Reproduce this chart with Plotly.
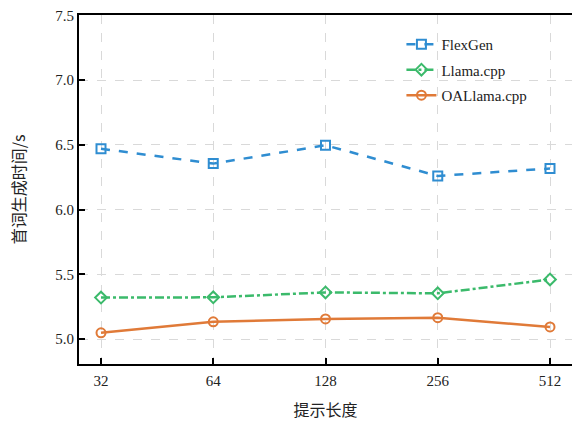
import plotly.graph_objects as go

categories = ["32", "64", "128", "256", "512"]
flexgen = [6.47, 6.355, 6.497, 6.26, 6.317]
llama_cpp = [5.32, 5.322, 5.36, 5.353, 5.46]
oallama_cpp = [5.048, 5.133, 5.155, 5.165, 5.093]
y_ticks = [5.0, 5.5, 6.0, 6.5, 7.0, 7.5]

series = [
    ("FlexGen", flexgen, "#2f8dd1", "dash", "square-open"),
    ("Llama.cpp", llama_cpp, "#3bba6b", "dashdot", "diamond-open"),
    ("OALlama.cpp", oallama_cpp, "#e07a38", "solid", "circle-open"),
]

serif = "Liberation Serif"
cjk = "Noto Sans CJK SC"
x_idx = list(range(len(categories)))

fig = go.Figure()
for i, (name, vals, color, dash, sym) in enumerate(series):
    fig.add_trace(go.Scatter(
        x=x_idx, y=vals, name=name, mode="lines+markers",
        line=dict(color=color, width=2.5, dash=dash),
        marker=dict(symbol=sym, size=9, color=color, line=dict(color=color, width=2)),
        legendgroup=f"g{i}",
    ))

fig.update_layout(
    template="none",
    width=572, height=421,
    margin=dict(l=79, r=0, t=15, b=57, autoexpand=False),
    paper_bgcolor="white", plot_bgcolor="white",
    font=dict(family=serif, size=14, color="#222"),
    showlegend=True,
    legend=dict(x=0.654, y=0.963, xanchor="left", yanchor="top",
                bgcolor="rgba(255,255,255,0)", font=dict(size=15, family=serif),
                tracegroupgap=3),
    xaxis=dict(
        range=[-0.196, 4.196], tickmode="array", tickvals=x_idx, ticktext=categories,
        ticks="inside", ticklen=6, tickwidth=1.5, tickcolor="black",
        showline=True, linecolor="black", linewidth=2, mirror=True,
        showgrid=True, gridcolor="#d9d9d9", griddash="dash", gridwidth=1.2,
        zeroline=False, automargin=False, ticklabelstandoff=2,
        title=dict(text="提示长度", font=dict(size=16, family=cjk), standoff=20),
        tickfont=dict(size=15, family=serif),
    ),
    yaxis=dict(
        range=[4.807, 7.503], tickmode="array", tickvals=y_ticks,
        ticktext=[f"{v:.1f}" for v in y_ticks],
        ticks="inside", ticklen=6, tickwidth=1.5, tickcolor="black",
        showline=True, linecolor="black", linewidth=2, mirror=False,
        showgrid=True, gridcolor="#d9d9d9", griddash="dash", gridwidth=1.2,
        zeroline=False, automargin=False,
        title=dict(text="首词生成时间/s", font=dict(size=16, family=cjk), standoff=26),
        tickfont=dict(size=15, family=serif),
    ),
)

fig.write_html(
    "out.html",
    config={"displayModeBar": False},
    post_script="document.body.style.margin='0';document.body.style.overflow='hidden';",
)
